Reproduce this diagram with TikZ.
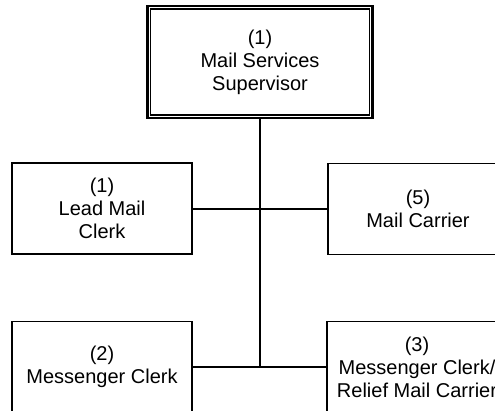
\documentclass[tikz,border=0pt]{standalone}
\usepackage{fontspec}
\setmainfont{Liberation Sans}
\usepackage{tikz}
\tikzset{
BOX/.style ={draw=black,line width=1.8pt,minimum width=180pt,minimum height=91pt,inner sep=0pt,align=center,font=\fontsize{20}{23}\selectfont},
TOPBOX/.style ={BOX,line width=2.2pt,minimum width=225pt,minimum height=112pt},
INNER/.style ={draw=black,line width=1.3pt},
LINK/.style ={draw=black,line width=2pt},
}

\begin{document}
\begin{tikzpicture} [x=1pt, y=-1pt] %mail services chart
	\useasboundingbox (0,0) rectangle (495,410);
	\clip (0,0) rectangle (495,410);
	\node[TOPBOX] (sup) at (260,62) {(1)\\Mail Services\\Supervisor};
	\path[INNER] ([shift={(4,4)}]sup.north west) rectangle ([shift={(-4,-4)}]sup.south east);
	\node[BOX] (lead) at (102,208.5) {(1)\\Lead Mail\\Clerk};
	\node[BOX] (carrier) at (418,209) {(5)\\Mail Carrier};
	\node[BOX] (msgr) at (102,367) {(2)\\Messenger Clerk};
	\node[BOX] (relief) at (417,367) {(3)\\Messenger Clerk/\\Relief Mail Carrier};
	\coordinate (trunk) at (sup.south |- msgr.east);
	\path[LINK] (sup.south) -- (trunk);
	\path[LINK] (lead.east) -- (lead.east -| sup.south);
	\path[LINK] (carrier.west) -- (carrier.west -| sup.south);
	\path[LINK] (msgr.east) -- (trunk) -- (relief.west);
\end{tikzpicture}
\end{document}
